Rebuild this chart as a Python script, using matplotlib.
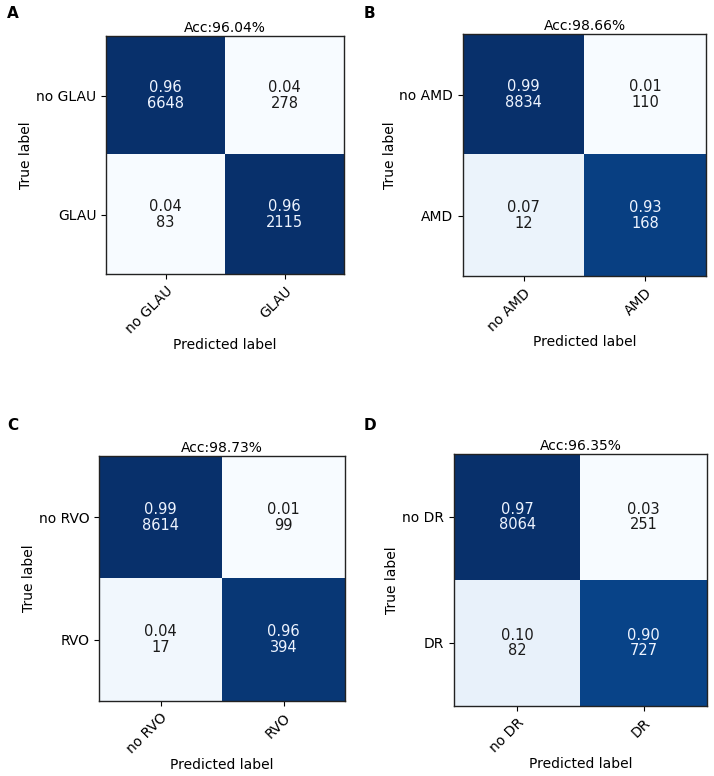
import numpy as np
import matplotlib
matplotlib.use("Agg")
import matplotlib.pyplot as plt

# confusion matrices: counts and normalised rates
panel_letters = ["A", "B", "C", "D"]
class_names = [["no GLAU", "GLAU"], ["no AMD", "AMD"], ["no RVO", "RVO"], ["no DR", "DR"]]
accuracies = ["96.04%", "98.66%", "98.73%", "96.35%"]
counts_glau = [[6648, 278], [83, 2115]]
counts_amd = [[8834, 110], [12, 168]]
counts_rvo = [[8614, 99], [17, 394]]
counts_dr = [[8064, 251], [82, 727]]
rates_glau = [[0.96, 0.04], [0.04, 0.96]]
rates_amd = [[0.99, 0.01], [0.07, 0.93]]
rates_rvo = [[0.99, 0.01], [0.04, 0.96]]
rates_dr = [[0.97, 0.03], [0.10, 0.90]]

counts = [counts_glau, counts_amd, counts_rvo, counts_dr]
rates = [rates_glau, rates_amd, rates_rvo, rates_dr]

W, H = 714, 776
fig = plt.figure(figsize=(W / 100, H / 100), dpi=100)

# axes boxes in pixels: left, top, right, bottom
boxes = [(106, 36, 344, 274), (463, 34, 706, 276),
         (99, 456, 345, 701), (454, 454, 707, 706)]
letter_pos = [(7, 13), (364, 13), (7, 425), (364, 425)]

for i in range(4):
    l, t, r, b = boxes[i]
    ax = fig.add_axes([l / W, 1 - b / H, (r - l) / W, (b - t) / H])
    cm = np.asarray(rates[i])
    ct = np.asarray(counts[i])
    ax.imshow(cm, cmap="Blues", vmin=cm.min(), vmax=cm.max(),
              interpolation="nearest", aspect="auto")
    for y in range(2):
        for x in range(2):
            color = "#eef4ff" if cm[y, x] > 0.5 else "#1a1a1a"
            ax.text(x, y, "%.2f\n%d" % (cm[y, x], ct[y, x]), ha="center", va="center",
                    color=color, fontsize=10.5, linespacing=1.05)
    ax.set_xticks([0, 1])
    ax.set_yticks([0, 1])
    ax.set_xticklabels(class_names[i], rotation=45, ha="right", rotation_mode="anchor", fontsize=10)
    ax.set_yticklabels(class_names[i], fontsize=10)
    ax.set_xlabel("Predicted label", fontsize=10, labelpad=1)
    ax.set_ylabel("True label", fontsize=10, labelpad=2)
    ax.set_title("Acc:" + accuracies[i], fontsize=10, pad=3)
    for s in ax.spines.values():
        s.set_linewidth(1.0)
        s.set_color("#222222")
    lx, ly = letter_pos[i]
    fig.text(lx / W, 1 - ly / H, panel_letters[i], fontsize=11, fontweight="bold",
             ha="left", va="center")

plt.savefig("out.png", dpi=100)
